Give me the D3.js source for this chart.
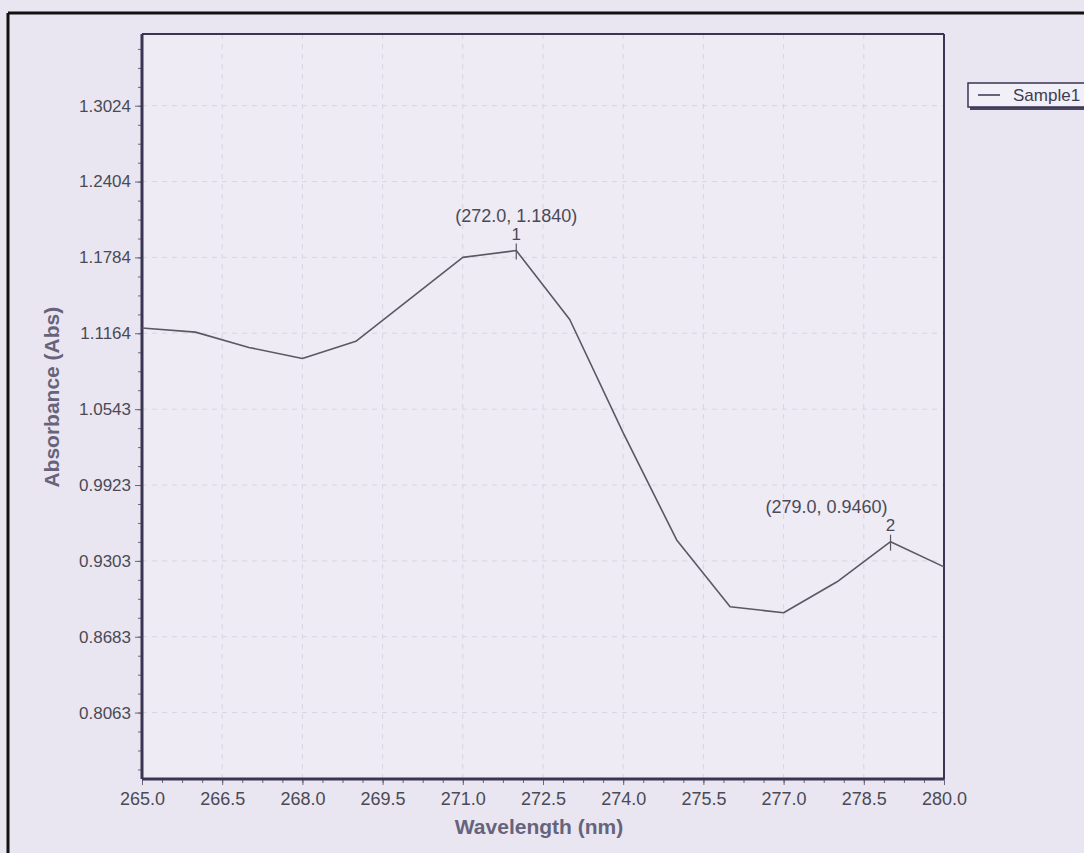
<!DOCTYPE html>
<html>
<head>
<meta charset="utf-8">
<script src="https://cdn.jsdelivr.net/npm/d3@7"></script>
<style>
  body { margin: 0; background: #e9e6f1; }
  svg { display: block; }
</style>
</head>
<body>
<div id="chart"></div>
<script>
const wavelengths = [265, 266, 267, 268, 269, 270, 271, 272, 273, 274, 275, 276, 277, 278, 279, 280];
const absorbance = [1.1207, 1.1173, 1.1048, 1.0957, 1.1098, 1.1440, 1.1784, 1.1840, 1.1276, 1.0350, 0.9474, 0.8928, 0.8879, 0.9132, 0.9460, 0.9254];
const xTickValues = [265.0, 266.5, 268.0, 269.5, 271.0, 272.5, 274.0, 275.5, 277.0, 278.5, 280.0];
const yTickValues = [0.8063, 0.8683, 0.9303, 0.9923, 1.0543, 1.1164, 1.1784, 1.2404, 1.3024];
const peaks = [
  { n: '1', x: 272.0, y: 1.1840, anchor: 'middle' },
  { n: '2', x: 279.0, y: 0.9460, anchor: 'end' },
];
const seriesName = 'Sample1';

const W = 1084, H = 853;
const margin = { top: 34, right: 140, bottom: 74, left: 142 };
const width = W - margin.left - margin.right;
const height = H - margin.top - margin.bottom;

const svg = d3.select('#chart').append('svg')
  .attr('width', W)
  .attr('height', H)
  .style('font-family', '"Liberation Sans", Arial, sans-serif');

// photo border
svg.append('rect').attr('x', 0).attr('y', 0).attr('width', W).attr('height', H).attr('fill', '#e9e6f1');
svg.append('line').attr('x1', 8).attr('x2', W).attr('y1', 13).attr('y2', 13).attr('stroke', '#111').attr('stroke-width', 3);
svg.append('line').attr('x1', 8).attr('x2', 8).attr('y1', 13).attr('y2', H).attr('stroke', '#111').attr('stroke-width', 3);

const g = svg.append('g').attr('transform', `translate(${margin.left},${margin.top})`);

const x = d3.scaleLinear().domain([265, 280]).range([0, width]);
const y = d3.scaleLinear().domain([0.752, 1.361]).range([height, 0]);

g.append('rect').attr('width', width).attr('height', height).attr('fill', '#eeebf5');

// dashed grid
g.append('g').selectAll('line').data(xTickValues.slice(1, -1)).join('line')
  .attr('x1', d => x(d)).attr('x2', d => x(d)).attr('y1', 0).attr('y2', height)
  .attr('stroke', '#d8d4e2').attr('stroke-dasharray', '5,5');
g.append('g').selectAll('line').data(yTickValues).join('line')
  .attr('x1', 0).attr('x2', width).attr('y1', d => y(d)).attr('y2', d => y(d))
  .attr('stroke', '#d8d4e2').attr('stroke-dasharray', '5,5');

// minor ticks
const xMinor = d3.range(265, 280.001, 0.375);
const yMinor = d3.range(0.8063 - 3 * 0.0155, 1.361, 0.0155);

const xAxis = g.append('g').attr('transform', `translate(0,${height})`)
  .call(d3.axisBottom(x).tickValues(xTickValues).tickFormat(d3.format('.1f')).tickSize(6).tickPadding(7));
g.append('g').attr('transform', `translate(0,${height})`)
  .call(d3.axisBottom(x).tickValues(xMinor).tickFormat('').tickSize(4))
  .call(a => a.select('.domain').remove());

const yAxis = g.append('g')
  .call(d3.axisLeft(y).tickValues(yTickValues).tickFormat(d3.format('.4f')).tickSize(7).tickPadding(4));
g.append('g')
  .call(d3.axisLeft(y).tickValues(yMinor).tickFormat('').tickSize(4))
  .call(a => a.select('.domain').remove());

[xAxis, yAxis].forEach(a => {
  a.select('.domain').remove();
  a.selectAll('text').attr('fill', '#4a4a55');
});
xAxis.selectAll('text').style('font-size', '18px');
yAxis.selectAll('text').style('font-size', '17px');
g.selectAll('.tick line').attr('stroke', '#6a6678');

// frame
g.append('line').attr('x1', 0).attr('x2', width).attr('y1', 0).attr('y2', 0).attr('stroke', '#3a3552').attr('stroke-width', 2);
g.append('line').attr('x1', width).attr('x2', width).attr('y1', 0).attr('y2', height).attr('stroke', '#3a3552').attr('stroke-width', 2);
g.append('line').attr('x1', 0).attr('x2', 0).attr('y1', 0).attr('y2', height).attr('stroke', '#3a3552').attr('stroke-width', 3);
g.append('line').attr('x1', 0).attr('x2', width).attr('y1', height).attr('y2', height).attr('stroke', '#3a3552').attr('stroke-width', 3);

// data line
const pts = wavelengths.map((w, i) => [w, absorbance[i]]);
g.append('path').datum(pts)
  .attr('fill', 'none')
  .attr('stroke', '#5a5862')
  .attr('stroke-width', 1.6)
  .attr('stroke-linejoin', 'round')
  .attr('d', d3.line().x(d => x(d[0])).y(d => y(d[1])));

// peak labels
const pk = g.append('g').selectAll('g').data(peaks).join('g')
  .attr('transform', d => `translate(${x(d.x)},${y(d.y)})`);
pk.append('line').attr('y1', -7).attr('y2', 9).attr('stroke', '#5a5862').attr('stroke-width', 1.2);
pk.append('text').attr('y', -11).attr('text-anchor', 'middle').attr('fill', '#4a4a55')
  .style('font-size', '17px').text(d => d.n);
pk.append('text')
  .attr('x', d => d.anchor === 'end' ? -3 : 0)
  .attr('y', -29).attr('text-anchor', d => d.anchor).attr('fill', '#4a4a55')
  .style('font-size', '18px').text(d => `(${d.x.toFixed(1)}, ${d.y.toFixed(4)})`);

// axis titles
svg.append('text')
  .attr('x', margin.left + width / 2 - 4).attr('y', 834)
  .attr('text-anchor', 'middle').attr('fill', '#67637a')
  .style('font-size', '21px').style('font-weight', 'bold')
  .text('Wavelength (nm)');
svg.append('text')
  .attr('transform', `translate(59,${margin.top + y(1.0543) - 12}) rotate(-90)`)
  .attr('text-anchor', 'middle').attr('fill', '#67637a')
  .style('font-size', '21px').style('font-weight', 'bold')
  .text('Absorbance (Abs)');

// legend
const lg = svg.append('g').attr('transform', 'translate(968,83)');
lg.append('rect').attr('x', 2).attr('y', 3).attr('width', 150).attr('height', 24).attr('fill', '#4a4560');
lg.append('rect').attr('width', 150).attr('height', 24).attr('fill', '#f1eff7').attr('stroke', '#3a3552').attr('stroke-width', 1.5);
lg.append('line').attr('x1', 10).attr('x2', 32).attr('y1', 12).attr('y2', 12).attr('stroke', '#3a3552').attr('stroke-width', 1.5);
lg.append('text').attr('x', 45).attr('y', 18).attr('fill', '#3f3d50').style('font-size', '17px').text(seriesName);
</script>
</body>
</html>
